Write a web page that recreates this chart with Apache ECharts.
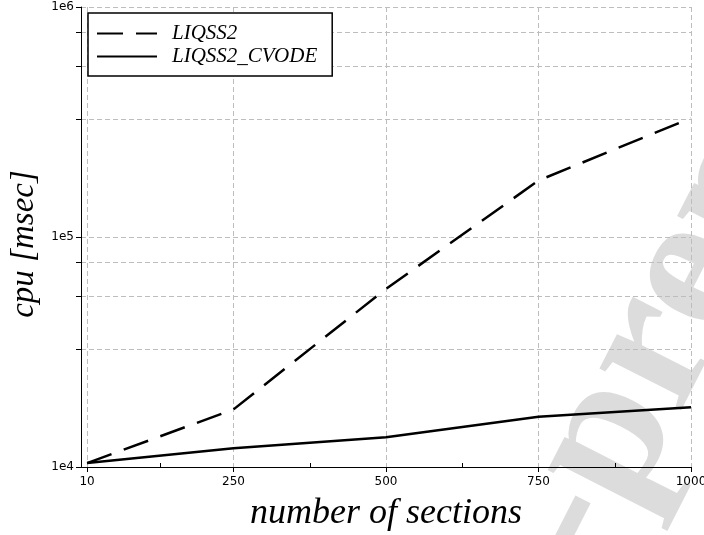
<!DOCTYPE html>
<html>
<head>
<meta charset="utf-8">
<script src="https://cdn.jsdelivr.net/npm/echarts@6/dist/echarts.min.js"></script>
<style>
html,body{margin:0;padding:0;background:#fff;}
#chart{width:704px;height:535px;}
</style>
</head>
<body>
<div id="chart"></div>
<script>
// ---- data ----
const sections = [10, 250, 500, 750, 1000];
const liqss2 = [1.04e4, 1.78e4, 5.95e4, 1.76e5, 3.29e5];
const liqss2Cvode = [1.04e4, 1.206e4, 1.346e4, 1.655e4, 1.82e4];
const xTickValues = [10, 250, 500, 750, 1000];
const xMinorTickValues = [130, 375, 625, 875];
const yTickLabels = ['1e4', '1e5', '1e6'];
const seriesNames = ['LIQSS2', 'LIQSS2_CVODE'];

const gridLine = { color: '#bdbdbd', width: 1, type: [5, 3] };
const serif = '"Liberation Serif", "DejaVu Serif", serif';

const chart = echarts.init(document.getElementById('chart'), null, { renderer: 'canvas' });
chart.setOption({
  animation: false,
  backgroundColor: '#fff',
  graphic: [{
    type: 'text',
    z: -10,
    silent: true,
    x: 552,
    y: 550,
    rotation: 63 * Math.PI / 180,
    style: {
      text: '-preprint-',
      fill: '#dcdcdc',
      font: 'bold 200px ' + serif,
      textAlign: 'left',
      textVerticalAlign: 'middle'
    }
  }],
  grid: { left: 81, right: 13, top: 7, bottom: 68, containLabel: false, outerBoundsMode: 'none' },
  legend: {
    orient: 'vertical',
    left: 88,
    top: 13,
    itemWidth: 60,
    itemHeight: 14,
    itemGap: 2,
    padding: [10, 15, 9, 8],
    borderColor: '#000',
    borderWidth: 1.5,
    borderRadius: 0,
    backgroundColor: '#fff',
    itemStyle: { color: 'transparent', borderWidth: 0, opacity: 0 },
    textStyle: { fontFamily: serif, fontStyle: 'italic', fontSize: 21, color: '#000', padding: [0, 0, 0, 10] },
    data: seriesNames
  },
  xAxis: [{
    type: 'value',
    min: 0,
    max: 1000,
    position: 'bottom',
    name: 'number of sections',
    nameLocation: 'middle',
    nameGap: 29,
    nameTextStyle: { fontFamily: serif, fontStyle: 'italic', fontSize: 36, color: '#000' },
    axisLine: { show: true, lineStyle: { color: '#000', width: 1 } },
    axisTick: { show: true, inside: false, length: 5, customValues: xTickValues, lineStyle: { color: '#000', width: 1 } },
    axisLabel: {
      show: true, customValues: xTickValues, margin: 9,
      fontFamily: '"DejaVu Sans", sans-serif', fontSize: 12, color: '#000',
      formatter: function (v) { return String(v); }
    },
    splitLine: { show: true, lineStyle: gridLine }
  }, {
    type: 'value',
    min: 0,
    max: 1000,
    position: 'bottom',
    axisLine: { show: false },
    axisTick: { show: true, inside: true, length: 4, customValues: xMinorTickValues, lineStyle: { color: '#000', width: 1 } },
    axisLabel: { show: false },
    splitLine: { show: false }
  }],
  yAxis: {
    type: 'log',
    logBase: 10,
    min: 1e4,
    max: 1e6,
    name: 'cpu [msec]',
    nameLocation: 'middle',
    nameGap: 35,
    nameTextStyle: { fontFamily: serif, fontStyle: 'italic', fontSize: 33, color: '#000', padding: [0, 14, 0, 0] },
    axisLine: { show: true, lineStyle: { color: '#000', width: 1 } },
    axisTick: { show: true, length: 5, lineStyle: { color: '#000', width: 1 } },
    minorTick: { show: true, splitNumber: 4, length: 5, lineStyle: { color: '#000', width: 1 } },
    axisLabel: {
      margin: 7,
      fontFamily: '"DejaVu Sans", sans-serif',
      fontSize: 12,
      color: '#000',
      formatter: function (v) { return yTickLabels[Math.round(Math.log10(v)) - 4]; }
    },
    splitLine: { show: true, lineStyle: gridLine },
    minorSplitLine: { show: true, lineStyle: gridLine }
  },
  series: [{
    name: seriesNames[0],
    type: 'line',
    xAxisIndex: 0,
    symbol: 'none',
    data: sections.map((x, i) => [x, liqss2[i]]),
    lineStyle: { color: '#000', width: 2.5, type: [26, 13], cap: 'butt' },
    itemStyle: { color: '#000' }
  }, {
    name: seriesNames[1],
    type: 'line',
    xAxisIndex: 0,
    symbol: 'none',
    data: sections.map((x, i) => [x, liqss2Cvode[i]]),
    lineStyle: { color: '#000', width: 2.5, type: 'solid' },
    itemStyle: { color: '#000' }
  }]
});
</script>
</body>
</html>
